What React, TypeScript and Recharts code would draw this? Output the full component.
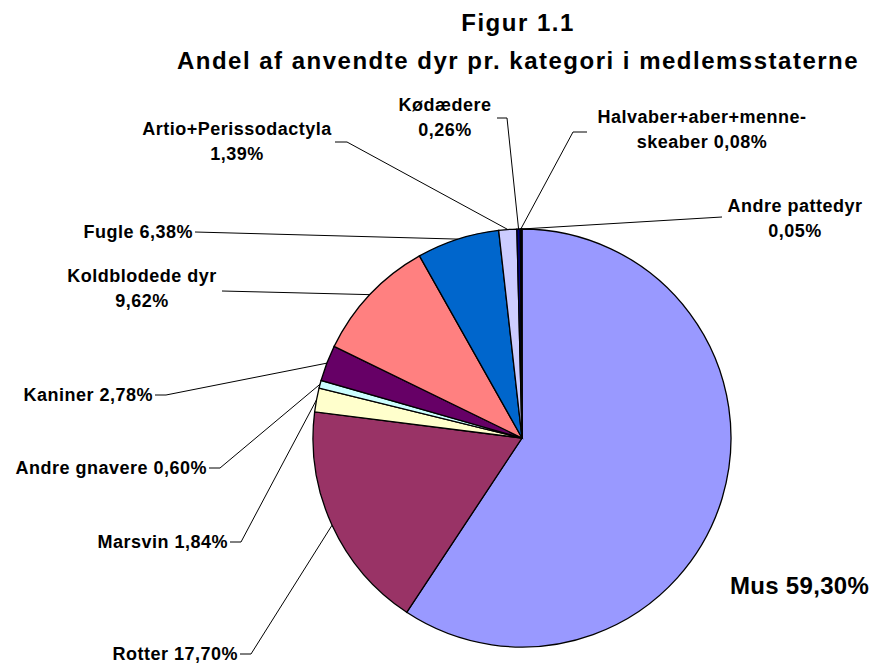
import { PieChart, Pie, Cell } from "recharts";

const categories = [
  "Mus",
  "Rotter",
  "Marsvin",
  "Andre gnavere",
  "Kaniner",
  "Koldblodede dyr",
  "Fugle",
  "Artio+Perissodactyla",
  "Kødædere",
  "Halvaber+aber+menne-skeaber",
  "Andre pattedyr",
];
const shares = [59.3, 17.7, 1.84, 0.6, 2.78, 9.62, 6.38, 1.39, 0.26, 0.08, 0.05];
const colors = [
  "#9999FF",
  "#993366",
  "#FFFFCC",
  "#CCFFFF",
  "#660066",
  "#FF8080",
  "#0066CC",
  "#CCCCFF",
  "#000080",
  "#FF00FF",
  "#FFFF00",
];
// how each label wraps: inline, value on its own line, or split at the hyphen
const wraps = ["inline", "inline", "inline", "inline", "inline", "below", "inline", "below", "below", "hyphen", "below"];

const data = categories.map((name, i) => ({ name, value: shares[i] }));

const FONT = "'Liberation Sans', Arial, sans-serif";
const RAD = Math.PI / 180;

type Spot = {
  anchor: "start" | "middle" | "end";
  tx: number;
  ty: number;
  size?: number;
  path?: number[][];
};

// label placement (page pixels) and leader line bends, from the slice edge
const spots: Spot[] = [
  { anchor: "start", tx: 730, ty: 594, size: 24 },
  { anchor: "end", tx: 238, ty: 660, path: [[251, 654], [240, 654]] },
  { anchor: "end", tx: 228, ty: 548, path: [[241, 542], [230, 542]] },
  { anchor: "end", tx: 207, ty: 474, path: [[220, 468], [209, 468]] },
  { anchor: "end", tx: 153, ty: 401, path: [[166, 395], [155, 395]] },
  { anchor: "middle", tx: 142, ty: 282, path: [[222, 291]] },
  { anchor: "end", tx: 193, ty: 238, path: [[195, 232]] },
  { anchor: "middle", tx: 237, ty: 135, path: [[347, 142], [335, 142]] },
  { anchor: "middle", tx: 445, ty: 111, path: [[507, 118], [497, 118]] },
  { anchor: "middle", tx: 702, ty: 123, path: [[573, 132], [587, 132]] },
  { anchor: "middle", tx: 795, ty: 212, path: [[722, 217]] },
];

function rows(i: number) {
  const pct = shares[i].toFixed(2).replace(".", ",") + "%";
  const name = categories[i];
  if (wraps[i] === "below") return [name, pct];
  if (wraps[i] === "hyphen") {
    const k = name.indexOf("-") + 1;
    return [name.slice(0, k), `${name.slice(k)} ${pct}`];
  }
  return [`${name} ${pct}`];
}

function renderLabel(props: any) {
  const { cx, cy, midAngle, outerRadius, index } = props;
  const s = spots[index];
  const ex = cx + outerRadius * Math.cos(-midAngle * RAD);
  const ey = cy + outerRadius * Math.sin(-midAngle * RAD);
  const pts = s.path ? [[ex, ey], ...s.path] : null;
  return (
    <g key={`lbl-${index}`}>
      {pts && (
        <polyline
          points={pts.map((p) => p.join(",")).join(" ")}
          fill="none"
          stroke="#000"
          strokeWidth={1}
        />
      )}
      <text
        x={s.tx}
        y={s.ty}
        textAnchor={s.anchor}
        fontFamily={FONT}
        fontWeight="bold"
        fontSize={s.size ?? 18}
        letterSpacing={s.size ? 0.3 : 0.5}
        fill="#000"
      >
        {rows(index).map((r, j) => (
          <tspan key={j} x={s.tx} y={s.ty + j * 25}>
            {r}
          </tspan>
        ))}
      </text>
    </g>
  );
}

export default function App() {
  return (
    <div style={{ position: "absolute", left: 0, top: 0, width: 880, height: 663, background: "#fff" }}>
      <div
        style={{
          position: "absolute",
          left: 0,
          width: 1036,
          top: 4,
          textAlign: "center",
          fontFamily: FONT,
          fontWeight: "bold",
          fontSize: 24,
          letterSpacing: 1.5,
          lineHeight: "38px",
          color: "#000",
        }}
      >
        <div>Figur 1.1</div>
        <div>Andel af anvendte dyr pr. kategori i medlemsstaterne</div>
      </div>
      <PieChart width={880} height={663} style={{ position: "absolute", left: 0, top: 0 }}>
        <Pie
          data={data}
          dataKey="value"
          nameKey="name"
          cx={517}
          cy={433}
          outerRadius={209}
          startAngle={90}
          endAngle={-270}
          stroke="#000"
          strokeWidth={1.3}
          label={renderLabel}
          labelLine={false}
          isAnimationActive={false}
        >
          {data.map((_, i) => (
            <Cell key={i} fill={colors[i]} />
          ))}
        </Pie>
      </PieChart>
    </div>
  );
}
